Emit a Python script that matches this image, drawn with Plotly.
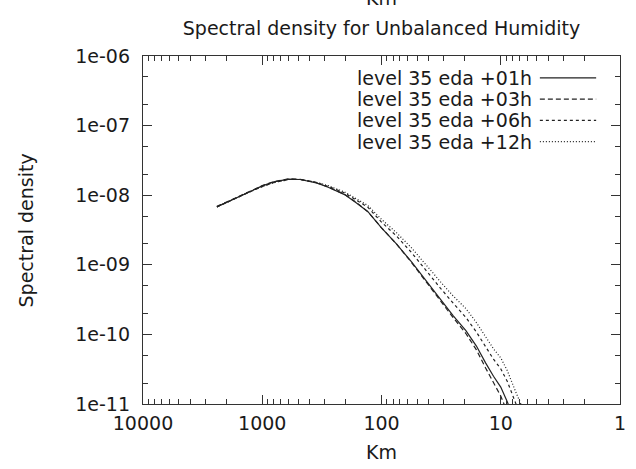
import plotly.graph_objects as go

# Wavelength (km) sampled along the spectrum
km = [2400, 2000, 1600, 1300, 1000, 800, 600, 480, 360, 280, 204, 160, 130,
      100, 75, 56, 42, 32, 25, 19.6, 16, 13.4, 11.5, 10, 8.8, 7.5, 6.5, 6.0]

# Spectral density per forecast range
sd_01h = [6.8e-9, 7.9e-9, 9.4e-9, 1.11e-8, 1.36e-8, 1.55e-8, 1.70e-8, 1.68e-8,
          1.52e-8, 1.30e-8, 1.02e-8, 7.6e-9, 5.8e-9, 3.4e-9, 2.0e-9, 1.1e-9,
          5.8e-10, 3.2e-10, 1.85e-10, 1.13e-10, 6.8e-11, 3.9e-11, 2.5e-11,
          1.75e-11, 1.07e-11, 5.0e-12, 2.6e-12, 1.8e-12]
sd_03h = [6.9e-9, 8.0e-9, 9.5e-9, 1.12e-8, 1.37e-8, 1.57e-8, 1.72e-8, 1.69e-8,
          1.53e-8, 1.31e-8, 1.03e-8, 7.7e-9, 5.8e-9, 3.4e-9, 2.0e-9, 1.08e-9,
          5.6e-10, 3.05e-10, 1.73e-10, 1.03e-10, 6.0e-11, 3.3e-11, 2.0e-11,
          1.3e-11, 7.6e-12, 3.4e-12, 1.7e-12, 1.2e-12]
sd_06h = [6.8e-9, 7.9e-9, 9.4e-9, 1.10e-8, 1.33e-8, 1.52e-8, 1.68e-8, 1.68e-8,
          1.54e-8, 1.34e-8, 1.08e-8, 8.4e-9, 6.7e-9, 4.1e-9, 2.6e-9, 1.5e-9,
          8.1e-10, 4.6e-10, 2.8e-10, 1.75e-10, 1.08e-10, 6.6e-11, 4.4e-11,
          3.2e-11, 2.1e-11, 1.03e-11, 5.6e-12, 4.0e-12]
sd_12h = [6.8e-9, 7.9e-9, 9.4e-9, 1.10e-8, 1.33e-8, 1.52e-8, 1.68e-8, 1.68e-8,
          1.55e-8, 1.37e-8, 1.11e-8, 8.8e-9, 7.1e-9, 4.5e-9, 2.9e-9, 1.75e-9,
          9.7e-10, 5.7e-10, 3.55e-10, 2.35e-10, 1.48e-10, 9.2e-11, 6.2e-11,
          4.6e-11, 3.0e-11, 1.5e-11, 8.3e-12, 6.1e-12]

series_names = ["level 35 eda +01h", "level 35 eda +03h",
                "level 35 eda +06h", "level 35 eda +12h"]
series_values = [sd_01h, sd_03h, sd_06h, sd_12h]
series_dash = ["solid", "5px,3px", "3px,3px", "1px,2px"]

x_tickvals = [10000, 1000, 100, 10, 1]
x_ticktext = ["10000", "1000", "100", "10", "1"]
y_tickvals = [1e-11, 1e-10, 1e-9, 1e-8, 1e-7, 1e-6]
y_ticktext = ["1e-11", "1e-10", "1e-09", "1e-08", "1e-07", "1e-06"]

FONT = "DejaVu Sans, Liberation Sans, sans-serif"
FS = 19
INK = "#1a1a1a"
AXIS = "#333333"

fig = go.Figure()
for name, vals, dash in zip(series_names, series_values, series_dash):
    fig.add_trace(go.Scatter(
        x=km, y=vals, mode="lines", name=name,
        line=dict(color="#222222", width=1.2, dash=dash),
        showlegend=False, cliponaxis=True,
    ))

# gnuplot-style key: right-aligned text followed by a line sample
key_rows_y = [0.937, 0.876, 0.815, 0.754]
for name, dash, yy in zip(series_names, series_dash, key_rows_y):
    fig.add_annotation(xref="paper", yref="paper", x=0.818, y=yy,
                       text=name, showarrow=False, xanchor="right",
                       yanchor="middle", borderpad=0,
                       font=dict(family=FONT, size=FS, color=INK))
    fig.add_shape(type="line", xref="paper", yref="paper",
                  x0=0.832, x1=0.950, y0=yy, y1=yy,
                  line=dict(color="#222222", width=1.2, dash=dash))

# axis titles and the x2 label peeking at the top edge
fig.add_annotation(xref="paper", yref="paper", x=0.5, y=-0.138, text="Km",
                   showarrow=False, xanchor="center", yanchor="middle",
                   font=dict(family=FONT, size=FS, color=INK))
fig.add_annotation(xref="paper", yref="paper", x=0.5, y=1.166, text="Km",
                   showarrow=False, xanchor="center", yanchor="middle",
                   font=dict(family=FONT, size=FS, color=INK))
fig.add_annotation(xref="paper", yref="paper", x=-0.2443, y=0.5,
                   text="Spectral density", textangle=-90, showarrow=False,
                   xanchor="center", yanchor="middle",
                   font=dict(family=FONT, size=FS, color=INK))

fig.update_layout(
    width=636, height=469,
    margin=dict(l=143, r=10, t=56, b=65, pad=0),
    paper_bgcolor="white", plot_bgcolor="white",
    title=dict(text="Spectral density for Unbalanced Humidity",
               x=0.5, xref="paper", xanchor="center",
               y=1 - 28 / 469, yref="container", yanchor="middle",
               font=dict(family=FONT, size=FS, color=INK)),
    font=dict(family=FONT, size=FS, color=INK),
)

fig.update_xaxes(
    type="log", range=[4, 0], showgrid=False, zeroline=False,
    showline=True, linecolor=AXIS, linewidth=1.3, mirror="allticks",
    ticks="inside", ticklen=9, tickwidth=1, tickcolor=AXIS,
    tickvals=x_tickvals, ticktext=x_ticktext,
    tickfont=dict(family=FONT, size=FS, color=INK),
    ticklabelstandoff=2,
    minor=dict(ticks="inside", ticklen=5, tickwidth=1, tickcolor=AXIS,
               dtick="D1", showgrid=False),
)
fig.update_yaxes(
    type="log", range=[-11, -6], showgrid=False, zeroline=False,
    showline=True, linecolor=AXIS, linewidth=1.3, mirror="allticks",
    ticks="inside", ticklen=9, tickwidth=1, tickcolor=AXIS,
    tickvals=y_tickvals, ticktext=y_ticktext,
    tickfont=dict(family=FONT, size=FS, color=INK),
    ticklabelstandoff=8,
    minor=dict(ticks="inside", ticklen=5, tickwidth=1, tickcolor=AXIS,
               dtick="D2", showgrid=False),
)

fig.write_html("out.html")
